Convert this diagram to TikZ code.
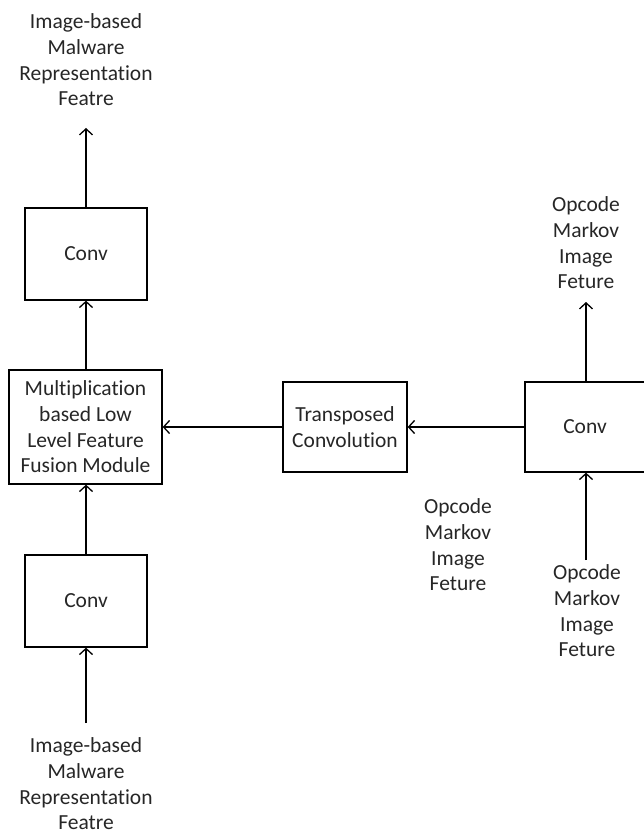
\documentclass[tikz,border=0pt]{standalone}
\usepackage{fontspec}
\setmainfont{Carlito}[Ligatures=NoCommon]
\usetikzlibrary{arrows.meta}
\definecolor{txt}{RGB}{38,38,38}
\tikzset{
  box/.style={draw=black, line width=1.3pt, inner sep=0pt, align=center, text=txt},
  lbl/.style={inner sep=0pt, align=center, text=txt},
  arr/.style={line width=1.3pt, -{Straight Barb[length=6pt,width=13pt,line width=1.3pt]}},
}
\begin{document}
\begin{tikzpicture}[x=1pt,y=-1pt,font=\fontsize{21.5}{25.7}\selectfont]
\useasboundingbox (0,0) rectangle (643,834);
% boxes
\node[box, minimum width=122pt, minimum height=92pt] (convtop) at (86,254) {Conv};
\node[box, minimum width=153pt, minimum height=114pt] (fusion) at (85.5,427) {Multiplication\\based Low\\Level Feature\\Fusion Module};
\node[box, minimum width=122pt, minimum height=92pt] (convbot) at (86,601) {Conv};
\node[box, minimum width=124pt, minimum height=90pt] (trans) at (345,427) {Transposed\\Convolution};
\node[box, minimum width=120pt, minimum height=90pt] (convr) at (585,427) {Conv};
% labels
\node[lbl] (outtop) at (86,60) {Image-based\\Malware\\Representation\\Featre};
\node[lbl] (inbot) at (86,784) {Image-based\\Malware\\Representation\\Featre};
\node[lbl] (outr) at (586,243) {Opcode\\Markov\\Image\\Feture};
\node[lbl] (inr) at (587,611) {Opcode\\Markov\\Image\\Feture};
\node[lbl] (mid) at (458,545) {Opcode\\Markov\\Image\\Feture};
% coordinates for free ends
\coordinate (toptip) at (86,128);
\coordinate (botstart) at (86,723);
\coordinate (rtip) at (586,302);
\coordinate (rstart) at (586,560);
% connectors
\draw[arr] (convtop.north) -- (toptip);
\draw[arr] (fusion.north -| convtop.south) -- (convtop.south);
\draw[arr] (convbot.north) -- (fusion.south -| convbot.north);
\draw[arr] (botstart) -- (convbot.south);
\draw[arr] (trans.west) -- (fusion.east);
\draw[arr] (convr.west) -- (trans.east);
\draw[arr] (convr.north -| rtip) -- (rtip);
\draw[arr] (rstart) -- (convr.south -| rstart);
\end{tikzpicture}
\end{document}
